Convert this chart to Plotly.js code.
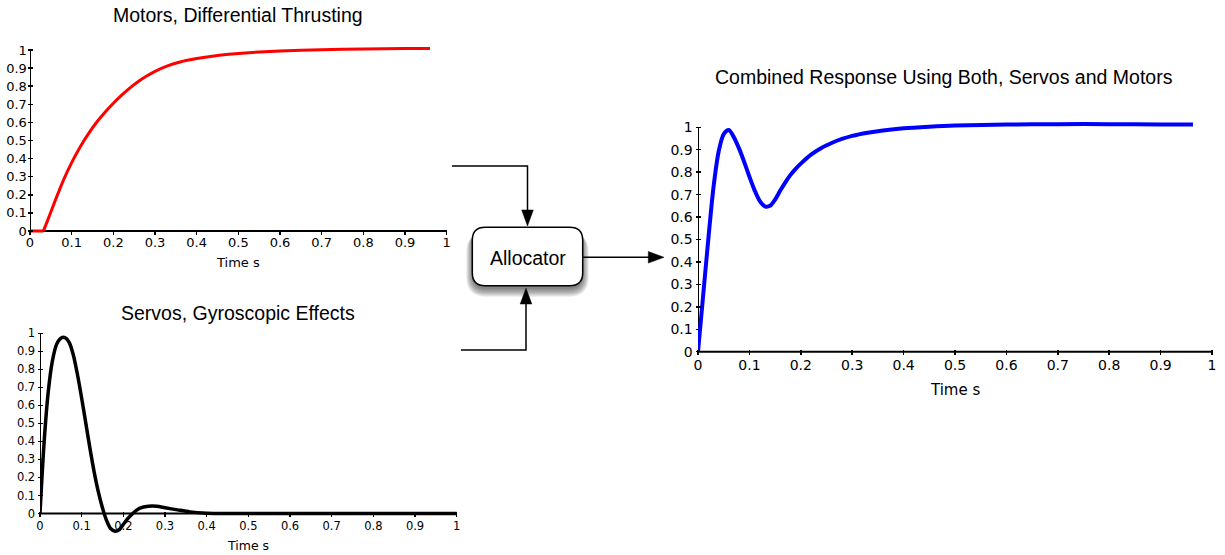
<!DOCTYPE html>
<html><head><meta charset="utf-8">
<script src="https://cdn.plot.ly/plotly-3.0.1.min.js"></script>
<style>html,body{margin:0;padding:0;background:#fff}#chart{width:1225px;height:555px}</style>
</head><body><div id="chart"></div>
<script>
// ---- data ----
const motorsTime  = [0, 0.032, 0.04, 0.06, 0.08, 0.1, 0.12, 0.14, 0.16, 0.18, 0.2, 0.22, 0.24, 0.26, 0.28, 0.3, 0.33, 0.36, 0.4, 0.45, 0.5, 0.55, 0.6, 0.7, 0.8, 0.9, 0.96];
const motorsValue = [0, 0, 0.045, 0.165, 0.28, 0.378, 0.463, 0.537, 0.601, 0.656, 0.706, 0.751, 0.791, 0.826, 0.856, 0.882, 0.912, 0.934, 0.953, 0.97, 0.981, 0.989, 0.995, 1.002, 1.006, 1.008, 1.008];

const servosTime  = [0, 0.01, 0.02, 0.03, 0.04, 0.05, 0.06, 0.07, 0.08, 0.09, 0.1, 0.11, 0.12, 0.13, 0.14, 0.15, 0.16, 0.17, 0.18, 0.19, 0.2, 0.21, 0.22, 0.23, 0.24, 0.26, 0.28, 0.3, 0.33, 0.36, 0.4, 0.45, 0.5, 0.6, 0.7, 0.8, 0.9, 1.0];
const servosValue = [0, 0.40, 0.68, 0.85, 0.94, 0.973, 0.976, 0.95, 0.88, 0.77, 0.64, 0.50, 0.36, 0.23, 0.12, 0.03, -0.04, -0.085, -0.098, -0.09, -0.06, -0.03, -0.005, 0.015, 0.03, 0.04, 0.04, 0.032, 0.02, 0.009, 0.002, 0, 0, 0, 0, 0, 0, 0];

const combinedTime  = [0, 0.01, 0.02, 0.03, 0.04, 0.05, 0.06, 0.07, 0.08, 0.09, 0.1, 0.11, 0.12, 0.13, 0.14, 0.15, 0.16, 0.17, 0.18, 0.19, 0.2, 0.22, 0.24, 0.26, 0.28, 0.3, 0.33, 0.36, 0.4, 0.45, 0.5, 0.6, 0.7, 0.8, 0.9, 0.963];
const combinedValue = [0, 0.25, 0.50, 0.73, 0.89, 0.97, 0.988, 0.955, 0.905, 0.845, 0.78, 0.72, 0.672, 0.648, 0.65, 0.678, 0.718, 0.755, 0.788, 0.815, 0.838, 0.878, 0.908, 0.93, 0.948, 0.962, 0.976, 0.986, 0.996, 1.003, 1.008, 1.012, 1.014, 1.014, 1.013, 1.012];

const tickValues = [0, 0.1, 0.2, 0.3, 0.4, 0.5, 0.6, 0.7, 0.8, 0.9, 1];
const tickLabels = ['0', '0.1', '0.2', '0.3', '0.4', '0.5', '0.6', '0.7', '0.8', '0.9', '1'];

const motorsTitle = 'Motors, Differential Thrusting';
const servosTitle = 'Servos, Gyroscopic Effects';
const combinedTitle = 'Combined Response Using Both, Servos and Motors';
const xAxisTitle = 'Time s';
const blockLabel = 'Allocator';

// ---- layout helpers (pixels -> paper) ----
const W = 1225, H = 555;
const PX = p => p / W;
const PY = p => 1 - p / H;
const TICKFONT = 'DejaVu Sans, Verdana, sans-serif';
const TITLEFONT = 'Liberation Sans, Arial, Helvetica, sans-serif';
const TL = 5; // tick length, centred on the axis line

const panels = [
  {sx: '', x0: 30, x1: 446.7, y0: 231, y1: 50, ymin: -0.02, ymax: 1.03, tick: 13, ystand: -2, xstand: -3},
  {sx: '2', x0: 40, x1: 456.7, y0: 513.5, y1: 333.3, ymin: -0.12, ymax: 1.02, tick: 11.5, ystand: 0, xstand: -1},
  {sx: '3', x0: 698, x1: 1212, y0: 351.7, y1: 127.3, ymin: -0.02, ymax: 1.03, tick: 14, ystand: 0, xstand: -2}
];

const layout = {
  width: W, height: H,
  margin: {l: 0, r: 0, t: 0, b: 0},
  paper_bgcolor: '#fff', plot_bgcolor: 'rgba(0,0,0,0)',
  showlegend: false,
  shapes: [], annotations: []
};

panels.forEach(p => {
  const k = p.y0 - p.y1;
  const botPx = p.y0 + (-p.ymin) * k;
  const topPx = p.y1 - (p.ymax - 1) * k;
  layout['xaxis' + p.sx] = {
    domain: [PX(p.x0), PX(p.x1)], range: [0, 1],
    anchor: 'free', position: PY(p.y0 - TL / 2),
    tickmode: 'array', tickvals: tickValues, ticktext: tickLabels,
    ticks: 'outside', ticklen: TL, tickwidth: 1.5, tickcolor: '#000',
    ticklabelstandoff: p.xstand,
    tickfont: {family: TICKFONT, size: p.tick, color: '#000'},
    showgrid: false, zeroline: false, showline: false, fixedrange: true
  };
  layout['yaxis' + p.sx] = {
    domain: [PY(botPx), PY(topPx)], range: [p.ymin, p.ymax],
    anchor: 'free', position: PX(p.x0 + TL / 2),
    tickmode: 'array', tickvals: tickValues, ticktext: tickLabels,
    ticks: 'outside', ticklen: TL, tickwidth: 1.5, tickcolor: '#000',
    ticklabelstandoff: p.ystand,
    tickfont: {family: TICKFONT, size: p.tick, color: '#000'},
    showgrid: false, zeroline: false, showline: false, fixedrange: true
  };
  // axis lines
  layout.shapes.push({type: 'line', xref: 'x' + p.sx, yref: 'y' + p.sx, x0: 0, x1: 1, y0: 0, y1: 0, layer: 'below', line: {color: '#000', width: 2}});
  layout.shapes.push({type: 'line', xref: 'x' + p.sx, yref: 'y' + p.sx, x0: 0, x1: 0, y0: 0, y1: 1, layer: 'below', line: {color: '#000', width: 2}});
});

// titles & axis titles
function ann(text, x, y, size, family) {
  layout.annotations.push({text: text, xref: 'paper', yref: 'paper', x: PX(x), y: PY(y),
    xanchor: 'center', yanchor: 'middle', showarrow: false,
    font: {family: family, size: size, color: '#000'}});
}
ann(motorsTitle, 238, 15, 19.5, TITLEFONT);
ann(servosTitle, 238.3, 312.5, 19.5, TITLEFONT);
ann(combinedTitle, 944, 76.5, 19.5, TITLEFONT);
ann(xAxisTitle, 238.3, 262.3, 13, TICKFONT);
ann(xAxisTitle, 248.3, 545, 12.5, TICKFONT);
ann(xAxisTitle, 955, 390, 15, TICKFONT);

// Allocator block (diagram decoration)
function roundRect(l, t, r, b, rad) {
  const X = PX, Y = PY;
  return `M ${X(l + rad)},${Y(t)} L ${X(r - rad)},${Y(t)} Q ${X(r)},${Y(t)} ${X(r)},${Y(t + rad)} ` +
    `L ${X(r)},${Y(b - rad)} Q ${X(r)},${Y(b)} ${X(r - rad)},${Y(b)} L ${X(l + rad)},${Y(b)} ` +
    `Q ${X(l)},${Y(b)} ${X(l)},${Y(b - rad)} L ${X(l)},${Y(t + rad)} Q ${X(l)},${Y(t)} ${X(l + rad)},${Y(t)} Z`;
}
function poly(pts, closed) {
  return pts.map((q, i) => (i ? 'L ' : 'M ') + PX(q[0]) + ',' + PY(q[1])).join(' ') + (closed ? ' Z' : '');
}
const box = {l: 472.3, t: 227.3, r: 582.7, b: 285.7, rad: 13};
for (let i = 7; i >= 1; i--) {
  layout.shapes.push({type: 'path', xref: 'paper', yref: 'paper',
    path: roundRect(box.l - i + 1, box.t + 2 + i * 0.5, box.r + i - 1, box.b + 2 + i * 1.3, box.rad + i),
    fillcolor: 'rgba(0,0,0,0.085)', line: {width: 0}, layer: 'above'});
}
layout.shapes.push({type: 'path', xref: 'paper', yref: 'paper', path: roundRect(box.l, box.t, box.r, box.b, box.rad),
  fillcolor: '#fff', line: {color: '#000', width: 1.5}, layer: 'above'});
ann(blockLabel, 527.5, 257.7, 19.5, TITLEFONT);

// connectors
const conn = [
  [[452, 166], [527.5, 166], [527.5, 212]],
  [[461, 350], [526, 350], [526, 303]],
  [[582.7, 257.3], [650, 257.3]]
];
conn.forEach(c => layout.shapes.push({type: 'path', xref: 'paper', yref: 'paper', path: poly(c, false),
  line: {color: '#000', width: 1.5}, layer: 'above'}));
const heads = [
  [[521.7, 210], [533.3, 210], [527.5, 226]],
  [[520.2, 304], [531.8, 304], [526, 288.3]],
  [[648.3, 251.5], [648.3, 263.1], [664, 257.3]]
];
heads.forEach(h => layout.shapes.push({type: 'path', xref: 'paper', yref: 'paper', path: poly(h, true),
  fillcolor: '#000', line: {color: '#000', width: 0.5}, layer: 'above'}));

// ---- traces ----
const traces = [
  {x: motorsTime.slice(0, 2), y: motorsValue.slice(0, 2), xaxis: 'x', yaxis: 'y', mode: 'lines',
   line: {color: '#ff0000', width: 3}, hoverinfo: 'skip'},
  {x: motorsTime.slice(1), y: motorsValue.slice(1), xaxis: 'x', yaxis: 'y', mode: 'lines',
   line: {color: '#ff0000', width: 3, shape: 'spline', smoothing: 0.6}, hoverinfo: 'skip'},
  {x: servosTime, y: servosValue, xaxis: 'x2', yaxis: 'y2', mode: 'lines',
   line: {color: '#000000', width: 3.5, shape: 'spline', smoothing: 0.8}, hoverinfo: 'skip'},
  {x: combinedTime, y: combinedValue, xaxis: 'x3', yaxis: 'y3', mode: 'lines',
   line: {color: '#0000ff', width: 4, shape: 'spline', smoothing: 0.8}, hoverinfo: 'skip'}
];

Plotly.newPlot('chart', traces, layout, {staticPlot: true, displayModeBar: false});
</script>
</body></html>
